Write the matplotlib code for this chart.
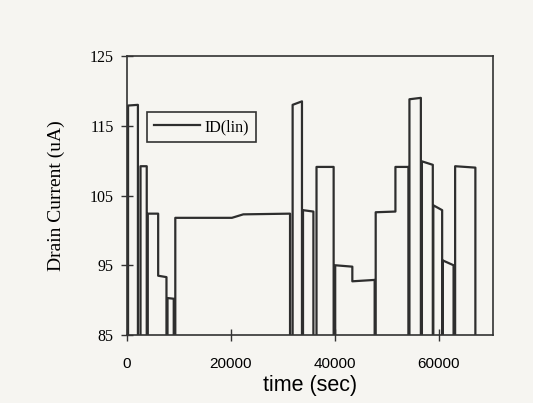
import matplotlib.pyplot as plt
import numpy as np

# measurement runs: start/end times (sec) and drain current (uA) at each point
run_times = [
    [200, 2100],
    [2600, 3800],
    [4000, 6000, 6000, 7600],
    [7800, 9000],
    [9300, 20200, 22400, 31400],
    [31900, 33700],
    [33900, 35900],
    [36500, 39800],
    [40100, 43400, 43400, 47700],
    [47900, 51700, 51700, 54200],
    [54400, 56600],
    [56800, 58900],
    [59000, 60700],
    [60800, 62900],
    [63200, 67100],
]
run_current = [
    [117.9, 118.0],
    [109.2, 109.2],
    [102.4, 102.4, 93.5, 93.3],
    [90.3, 90.2],
    [101.8, 101.8, 102.3, 102.4],
    [118.0, 118.5],
    [102.9, 102.7],
    [109.1, 109.1],
    [95.0, 94.8, 92.7, 92.9],
    [102.6, 102.7, 109.1, 109.1],
    [118.8, 119.0],
    [109.9, 109.4],
    [103.6, 102.9],
    [95.7, 95.0],
    [109.2, 109.0],
]

x_ticks = [0, 20000, 40000, 60000]
y_ticks = [85, 95, 105, 115, 125]

# between runs the current is off (drops to zero)
t_all, i_all = [], []
for t, cur in zip(run_times, run_current):
    t_all += [t[0]] + t + [t[-1]]
    i_all += [0] + cur + [0]

bg = '#f6f5f1'
fig = plt.figure(figsize=(5.33, 4.03), dpi=100, facecolor=bg)
ax = fig.add_axes([0.2383, 0.1687, 0.6867, 0.6923])
ax.set_facecolor(bg)

ax.plot(t_all, i_all, color='#2e2e2e', lw=1.6, label='ID(lin)')

ax.set_xlim(0, 70500)
ax.set_ylim(85, 125)
ax.set_xticks(x_ticks)
ax.set_yticks(y_ticks)
ax.tick_params(direction='inout', length=9, width=1, color='#333333')
ax.tick_params(axis='y', pad=5)
ax.tick_params(axis='x', pad=11.5)

for lab in ax.get_yticklabels():
    lab.set_family('Liberation Serif')
    lab.set_fontsize(11.5)
for lab in ax.get_xticklabels():
    lab.set_family('Liberation Sans')
    lab.set_fontsize(11)

ax.set_ylabel('Drain Current (uA)', family='Liberation Serif', fontsize=14, labelpad=18)
ax.set_xlabel('time (sec)', family='Liberation Sans', fontsize=15.5, labelpad=3)

for sp in ax.spines.values():
    sp.set_color('#333333')
    sp.set_linewidth(1.2)

leg = ax.legend(loc='upper left', bbox_to_anchor=(0.054, 0.80), borderaxespad=0,
                fancybox=False, handlelength=2.9, handletextpad=0.25, borderpad=0.45,
                prop={'family': 'Liberation Serif', 'size': 11.5})
leg.get_frame().set_edgecolor('#333333')
leg.get_frame().set_linewidth(1.2)
leg.get_frame().set_facecolor(bg)
leg.get_frame().set_alpha(1)

fig.savefig('out.png', dpi=100, facecolor=bg)
